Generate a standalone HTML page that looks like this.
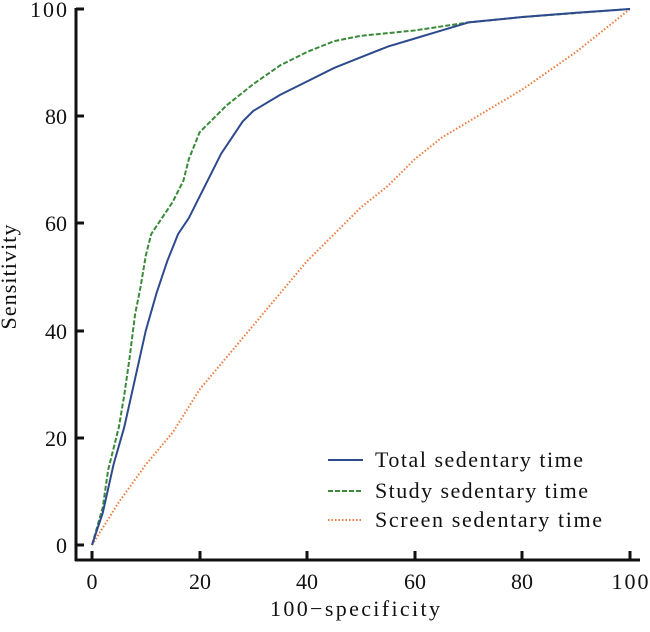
<!DOCTYPE html><html><head><style>body{margin:0;background:#fff}svg text{font-family:"Liberation Serif",serif;fill:#111}</style></head><body>
<svg width="650" height="627" xmlns="http://www.w3.org/2000/svg">
<g stroke="#111" stroke-width="3" fill="none">
<line x1="76" y1="8" x2="76" y2="561"/><line x1="75" y1="560" x2="640" y2="560"/>
<line x1="76" y1="545" x2="84" y2="545"/><line x1="76" y1="438" x2="84" y2="438"/><line x1="76" y1="331" x2="84" y2="331"/><line x1="76" y1="223" x2="84" y2="223"/><line x1="76" y1="116" x2="84" y2="116"/><line x1="76" y1="9" x2="84" y2="9"/>
<line x1="92" y1="560" x2="92" y2="551"/><line x1="200" y1="560" x2="200" y2="551"/><line x1="307" y1="560" x2="307" y2="551"/><line x1="415" y1="560" x2="415" y2="551"/><line x1="522" y1="560" x2="522" y2="551"/><line x1="630" y1="560" x2="630" y2="551"/>
</g>
<g font-size="22" text-anchor="end"><text x="67" y="553">0</text><text x="67" y="446">20</text><text x="67" y="339">40</text><text x="67" y="231">60</text><text x="67" y="124">80</text><text x="67" y="17" textLength="37">100</text></g>
<g font-size="22" text-anchor="middle"><text x="92" y="589">0</text><text x="200" y="589">20</text><text x="307" y="589">40</text><text x="415" y="589">60</text><text x="522" y="589">80</text><text x="630" y="589" textLength="37">100</text>
<text x="355" y="616" textLength="170">100−specificity</text>
<text transform="translate(16,277) rotate(-90)" textLength="105">Sensitivity</text></g>
<g transform="translate(92,545) scale(5.38,-5.36)" fill="none">
<polyline vector-effect="non-scaling-stroke" stroke="#ec7a3c" stroke-width="2" stroke-dasharray="1.5 2" points="0,0 5,8 10,15 15,21 20,29 25,35 30,41 35,47 40,53 45,58 50,63 55,67 60,72 65,76 70,79 80,85 90,92 100,100"/>
<polyline vector-effect="non-scaling-stroke" stroke="#3a8a3a" stroke-width="2" stroke-dasharray="5 2" points="0,0 2,7 3,14 4,18 5,22 6,28 7,35 8,43 9,48 10,54 11,58 13,61 15,64 17,68 18,72 20,77 25,82 30,86 35,89.5 40,92 45,94 50,95 60,96 70,97.5 80,98.5 100,100"/>
<polyline vector-effect="non-scaling-stroke" stroke="#2e4a8e" stroke-width="2" points="0,0 2,6 4,15 6,22 8,31 10,40 12,47 14,53 16,58 18,61 20,65 22,69 24,73 26,76 28,79 30,81 35,84 40,86.5 45,89 50,91 55,93 60,94.5 65,96 70,97.5 80,98.5 90,99.3 100,100"/>
</g>
<line x1="328" y1="460" x2="363" y2="460" stroke="#2e4a8e" stroke-width="2"/>
<line x1="328" y1="491" x2="363" y2="491" stroke="#3a8a3a" stroke-width="2" stroke-dasharray="5 2"/>
<line x1="328" y1="520" x2="363" y2="520" stroke="#ec7a3c" stroke-width="2" stroke-dasharray="1.5 2"/>
<g font-size="22"><text x="375" y="467" textLength="208">Total sedentary time</text><text x="375" y="498" textLength="213">Study sedentary time</text><text x="375" y="527" textLength="227">Screen sedentary time</text></g>
</svg></body></html>
